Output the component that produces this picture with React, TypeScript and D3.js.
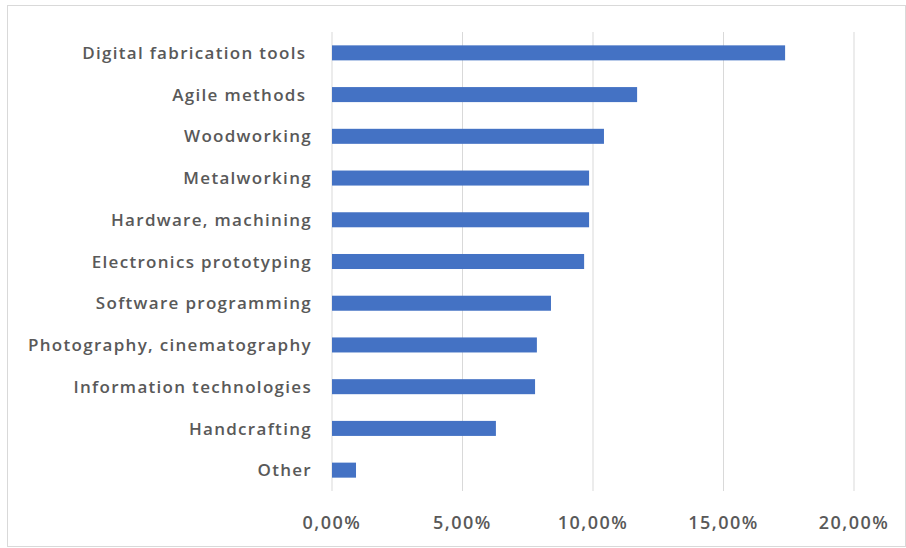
import React from "react";
import * as d3 from "d3";

const categories = [
  "Digital fabrication tools ",
  "Agile methods ",
  "Woodworking",
  "Metalworking",
  "Hardware, machining",
  "Electronics prototyping",
  "Software programming",
  "Photography, cinematography",
  "Information technologies",
  "Handcrafting",
  "Other",
];

const shares = [17.36, 11.69, 10.42, 9.85, 9.85, 9.66, 8.39, 7.85, 7.78, 6.28, 0.92];

const tickValues = [0, 5, 10, 15, 20];

const W = 906;
const H = 548;
const margin = { left: 332, right: 52, top: 32, bottom: 57 };

const fmt = (v: number) => v.toFixed(2).replace(".", ",") + "%";

export default function App() {
  const x = d3
    .scaleLinear()
    .domain([0, 20])
    .range([margin.left, W - margin.right]);
  const y = d3
    .scaleBand<string>()
    .domain(categories)
    .range([margin.top, H - margin.bottom])
    .paddingInner(0.64)
    .paddingOuter(0.32);

  const font = "'Open Sans', sans-serif";
  const textColor = "#595959";

  return (
    <div style={{ position: "fixed", left: 0, top: 0 }}>
      <svg width={W} height={H} style={{ display: "block", background: "#fff" }}>
        <rect x={7.5} y={5.5} width={W - 8} height={H - 7} fill="#fff" stroke="#d9d9d9" />
        {tickValues.map((t) => (
          <line
            key={t}
            x1={x(t)}
            x2={x(t)}
            y1={margin.top}
            y2={H - margin.bottom}
            stroke="#d9d9d9"
            strokeWidth={1}
          />
        ))}
        {categories.map((c, i) => (
          <rect
            key={c}
            x={x(0)}
            y={y(c)!}
            width={x(shares[i]) - x(0)}
            height={y.bandwidth()}
            fill="#4472c4"
          />
        ))}
        {categories.map((c) => (
          <text
            key={c}
            x={312}
            y={y(c)! + y.bandwidth() / 2}
            dy="0.36em"
            textAnchor="end"
            fontFamily={font}
            fontSize={17}
            fontWeight={600}
            letterSpacing={1.3}
            fill={textColor}
            style={{ whiteSpace: "pre" }}
          >
            {c}
          </text>
        ))}
        {tickValues.map((t) => (
          <text
            key={t}
            x={x(t)}
            y={529}
            textAnchor="middle"
            fontFamily={font}
            fontSize={18}
            fontWeight={600}
            letterSpacing={1.5}
            fill={textColor}
          >
            {fmt(t)}
          </text>
        ))}
      </svg>
    </div>
  );
}
